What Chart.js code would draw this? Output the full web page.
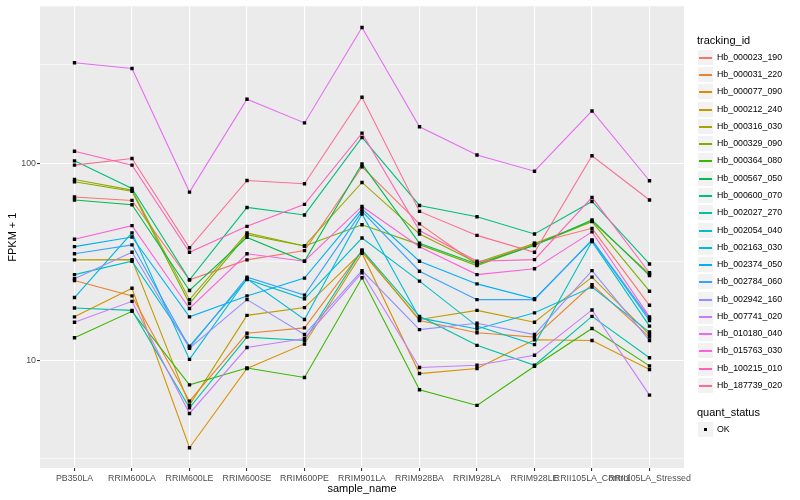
<!DOCTYPE html>
<html>
<head>
<meta charset="utf-8">
<script src="https://cdn.jsdelivr.net/npm/chart.js@4.4.0/dist/chart.umd.min.js"></script>
<style>
html,body{margin:0;padding:0;background:#fff;}
#wrap{position:relative;width:800px;height:500px;font-family:"Liberation Sans",Arial,sans-serif;}
#c{position:absolute;left:0;top:0;}
.lg-title{position:absolute;left:697px;font-size:11px;line-height:13px;color:#000;white-space:nowrap;}
.lg-item{position:absolute;left:697px;width:103px;height:17px;}
.lg-key{position:absolute;left:0;top:0;width:17px;height:17px;background:#F2F2F2;box-sizing:border-box;border:1px solid #fff;}
.lg-line{position:absolute;left:1px;width:13px;top:7px;height:2px;}
.lg-dot{position:absolute;left:6px;top:6px;width:3px;height:3px;background:#000;}
.lg-text{position:absolute;left:20px;top:0;line-height:17px;font-size:8.8px;color:#000;white-space:nowrap;}
</style>
</head>
<body>
<div id="wrap">
<canvas id="c" width="800" height="500"></canvas>
<div id="legend"></div>
</div>
<script>
// ---------- data ----------
const categories = ["PB350LA","RRIM600LA","RRIM600LE","RRIM600SE","RRIM600PE","RRIM901LA","RRIM928BA","RRIM928LA","RRIM928LE","RRII105LA_Control","RRII105LA_Stressed"];
const trackingIds = ["Hb_000023_190","Hb_000031_220","Hb_000077_090","Hb_000212_240","Hb_000316_030","Hb_000329_090","Hb_000364_080","Hb_000567_050","Hb_000600_070","Hb_002027_270","Hb_002054_040","Hb_002163_030","Hb_002374_050","Hb_002784_060","Hb_002942_160","Hb_007741_020","Hb_010180_040","Hb_015763_030","Hb_100215_010","Hb_187739_020"];

const Hb_000023_190 = [67.3, 64.7, 25.6, 32.3, 36.0, 95.8, 49.2, 30.6, 39.2, 46.7, 19.0];
const Hb_000031_220 = [25.4, 21.2, 6.2, 13.7, 14.6, 36.0, 15.9, 13.8, 13.1, 24.2, 13.1];
const Hb_000077_090 = [16.6, 23.2, 3.6, 9.08, 12.1, 34.9, 8.56, 9.08, 12.7, 12.6, 8.97];
const Hb_000212_240 = [32.3, 32.4, 5.92, 16.9, 18.5, 35.4, 16.1, 17.9, 15.6, 26.4, 13.5];
const Hb_000316_030 = [82.6, 73.0, 20.3, 44.3, 38.0, 79.8, 43.7, 31.3, 39.1, 50.7, 27.4];
const Hb_000329_090 = [80.4, 72.0, 19.4, 43.4, 38.0, 48.7, 38.6, 30.2, 38.6, 50.5, 22.4];
const Hb_000364_080 = [13.0, 17.7, 7.5, 9.14, 8.18, 26.2, 7.08, 5.9, 9.33, 14.5, 9.36];
const Hb_000567_050 = [65.0, 61.5, 22.6, 42.0, 31.8, 99.2, 39.2, 30.8, 38.2, 51.5, 26.9];
const Hb_000600_070 = [102.7, 74.4, 25.6, 59.6, 54.6, 135, 61.0, 53.5, 43.7, 63.9, 30.8];
const Hb_002027_270 = [18.4, 17.9, 5.74, 13.1, 12.6, 36.3, 16.7, 11.9, 9.43, 16.7, 10.3];
const Hb_002054_040 = [27.2, 31.8, 11.8, 25.7, 20.5, 41.7, 25.2, 14.9, 12.0, 40.0, 14.9];
const Hb_002163_030 = [20.8, 44.3, 10.1, 25.9, 16.1, 55.2, 16.4, 14.4, 17.4, 23.5, 13.9];
const Hb_002374_050 = [37.7, 42.2, 16.6, 21.2, 26.1, 58.5, 31.8, 24.4, 20.5, 40.5, 15.9];
const Hb_002784_060 = [34.7, 38.5, 11.6, 26.4, 21.4, 56.9, 28.3, 20.3, 20.3, 40.8, 16.3];
const Hb_002942_160 = [25.9, 35.3, 11.5, 20.3, 13.5, 28.5, 14.3, 15.4, 13.5, 28.5, 12.6];
const Hb_007741_020 = [15.6, 19.9, 5.37, 11.6, 12.9, 27.8, 9.19, 9.43, 10.6, 18.0, 6.65];
const Hb_010180_040 = [323, 302, 71.3, 211, 160, 488, 153, 110, 91, 184, 81.4];
const Hb_015763_030 = [41.1, 48.2, 18.3, 34.7, 31.8, 60.3, 37.7, 27.2, 29.1, 44.8, 16.6];
const Hb_100215_010 = [115, 97.7, 35.3, 47.8, 61.8, 142, 45.5, 31.8, 32.4, 67.0, 27.8];
const Hb_187739_020 = [97.7, 105.5, 37.2, 81.7, 78.6, 216, 56.9, 43.0, 35.3, 109, 65.0];

const seriesValues = [Hb_000023_190, Hb_000031_220, Hb_000077_090, Hb_000212_240, Hb_000316_030, Hb_000329_090, Hb_000364_080, Hb_000567_050, Hb_000600_070, Hb_002027_270, Hb_002054_040, Hb_002163_030, Hb_002374_050, Hb_002784_060, Hb_002942_160, Hb_007741_020, Hb_010180_040, Hb_015763_030, Hb_100215_010, Hb_187739_020];

const yMajorTicks = [10, 100];
const yMinorTicks = [3.1623, 31.623, 316.23];

// ---------- styles ----------
const palette = ["#F8766D","#EA8331","#D89000","#C09B00","#A3A500","#7CAE00","#39B600","#00BB4E","#00BF7D","#00C1A3","#00BFC4","#00BAE0","#00B0F6","#35A2FF","#9590FF","#C77CFF","#E76BF3","#FA62DB","#FF62BC","#FF6C91"];

Chart.defaults.font.family = '"Liberation Sans", Arial, sans-serif';

const lineSets = seriesValues.map((vals, i) => ({
  label: trackingIds[i],
  data: vals.map((v, j) => ({x: j, y: v})),
  borderColor: palette[i],
  backgroundColor: palette[i],
  borderWidth: 1.1,
  pointRadius: 0,
  tension: 0,
  fill: false,
  order: 100 - i
}));
const pointSets = seriesValues.map((vals, i) => ({
  label: trackingIds[i] + ' OK',
  data: vals.map((v, j) => ({x: j, y: v})),
  showLine: false,
  pointStyle: 'rect',
  pointRadius: 2.4,
  pointBorderWidth: 0,
  pointBackgroundColor: '#000',
  borderColor: '#000',
  order: 0
}));

const panelBg = {
  id: 'panelBg',
  beforeDraw(chart) {
    const {ctx, chartArea: a} = chart;
    ctx.save();
    ctx.fillStyle = '#EBEBEB';
    ctx.fillRect(a.left, a.top, a.right - a.left, a.bottom - a.top);
    ctx.restore();
  }
};

const isMajor = (ctx) => ctx.tick && yMajorTicks.includes(ctx.tick.value);

new Chart(document.getElementById('c'), {
  type: 'line',
  data: {datasets: [...lineSets, ...pointSets]},
  plugins: [panelBg],
  options: {
    responsive: false,
    animation: false,
    devicePixelRatio: 1,
    layout: {padding: {left: 0, right: 116, top: 5, bottom: 0}},
    plugins: {legend: {display: false}, tooltip: {enabled: false}},
    scales: {
      x: {
        type: 'linear',
        min: -0.6,
        max: categories.length - 1 + 0.6,
        afterBuildTicks: (s) => { s.ticks = categories.map((_, i) => ({value: i})); },
        afterFit: (s) => { s.height = 32; },
        ticks: {
          callback: (v) => categories[v],
          autoSkip: false, maxRotation: 0, minRotation: 0,
          color: '#4D4D4D', font: {size: 8.8}, padding: 2
        },
        grid: {color: '#FFFFFF', lineWidth: 1.1, tickColor: '#333333', tickLength: 3},
        border: {display: false},
        title: {display: true, text: 'sample_name', color: '#000', font: {size: 11}, padding: {top: 0, bottom: 4.4}}
      },
      y: {
        type: 'logarithmic',
        min: 2.84,
        max: 625,
        afterBuildTicks: (s) => { s.ticks = [...yMinorTicks, ...yMajorTicks].sort((a, b) => a - b).map(v => ({value: v})); },
        afterFit: (s) => { s.width = 40; },
        ticks: {
          callback: (v) => yMajorTicks.includes(v) ? String(v) : '',
          autoSkip: false, color: '#4D4D4D', font: {size: 8.8}, padding: 1
        },
        grid: {
          color: '#FFFFFF',
          lineWidth: (ctx) => isMajor(ctx) ? 1.1 : 0.55,
          tickColor: (ctx) => isMajor(ctx) ? '#333333' : 'rgba(0,0,0,0)',
          tickLength: 3
        },
        border: {display: false},
        title: {display: true, text: 'FPKM + 1', color: '#000', font: {size: 11}, padding: {top: 6, bottom: 0}}
      }
    }
  }
});

// ---------- legend (HTML) ----------
const lg = document.getElementById('legend');
function add(html) { lg.insertAdjacentHTML('beforeend', html); }
add('<div class="lg-title" style="top:34px">tracking_id</div>');
trackingIds.forEach((id, i) => {
  const top = Math.round(57.3 + 17.27 * i - 8.5);
  add('<div class="lg-item" style="top:' + top + 'px"><div class="lg-key"><div class="lg-line" style="background:' + palette[i] + '"></div></div><div class="lg-text">' + id + '</div></div>');
});
add('<div class="lg-title" style="top:406px">quant_status</div>');
add('<div class="lg-item" style="top:' + Math.round(429.3 - 8.5) + 'px"><div class="lg-key"><div class="lg-dot"></div></div><div class="lg-text">OK</div></div>');
</script>
</body>
</html>
